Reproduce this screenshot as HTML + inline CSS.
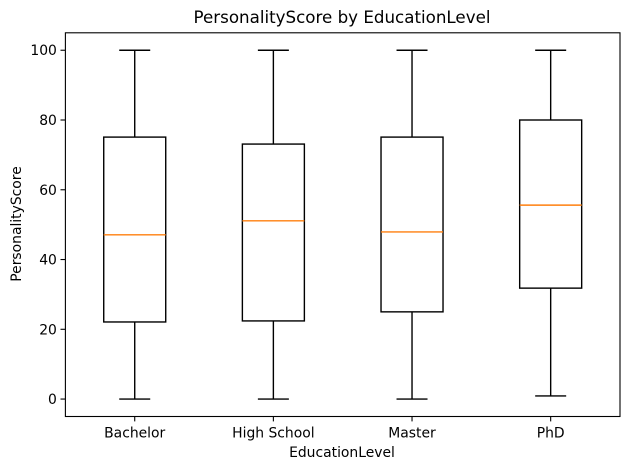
<!DOCTYPE html>
<html><head><meta charset="utf-8"><style>
body{margin:0;background:#fff;}
svg text{font-family:"DejaVu Sans","Liberation Sans",sans-serif;}
</style></head><body>
<svg id="chart" width="630" height="470" viewBox="0 0 630 470">
<rect width="630" height="470" fill="#fff"/>
<text x="342" y="23" font-size="16.7" text-anchor="middle">PersonalityScore by EducationLevel</text>
<g id="plot"></g>
<text x="342" y="457" font-size="13.9" text-anchor="middle">EducationLevel</text>
<text transform="translate(21,224) rotate(-90)" font-size="13.9" text-anchor="middle">PersonalityScore</text>
</svg>
<script>
const categories=["Bachelor","High School","Master","PhD"];
const whiskerLow=[0,0,0,0.9];
const q1=[22.1,22.4,25.0,31.8];
const medians=[47.1,51.1,47.9,55.6];
const q3=[75.1,73.1,75.1,80.0];
const whiskerHigh=[100,100,100,100];
const yTicks=[0,20,40,60,80,100];

const L=65.4,R=620,T=32.8,B=416.5;
const ymin=-5,ymax=105;
const xs=i=>L+(i+1-0.5)/4*(R-L);
const ys=v=>B-(v-ymin)/(ymax-ymin)*(B-T);
const NS="http://www.w3.org/2000/svg";
const g=document.getElementById('plot');
function mk(tag,attrs){const e=document.createElementNS(NS,tag);for(const k in attrs)e.setAttribute(k,attrs[k]);g.appendChild(e);return e;}
const hw=31, cap=15.5, sw=1.4;
categories.forEach((c,i)=>{
  const x=xs(i);
  let e=mk('line',{x1:x,x2:x,y1:ys(whiskerLow[i]),y2:ys(q1[i]),stroke:'#000','stroke-width':sw});
  
  
  e=mk('line',{x1:x,x2:x,y1:ys(q3[i]),y2:ys(whiskerHigh[i]),stroke:'#000','stroke-width':sw});
  
  
  e=mk('line',{x1:x-cap,x2:x+cap,y1:ys(whiskerLow[i]),y2:ys(whiskerLow[i]),stroke:'#000','stroke-width':sw});
  
  
  e=mk('line',{x1:x-cap,x2:x+cap,y1:ys(whiskerHigh[i]),y2:ys(whiskerHigh[i]),stroke:'#000','stroke-width':sw});
  
  
  e=mk('rect',{x:x-hw,y:ys(q3[i]),width:2*hw,height:ys(q1[i])-ys(q3[i]),fill:'none',stroke:'#000','stroke-width':sw});
  
  
  e=mk('line',{x1:x-hw,x2:x+hw,y1:ys(medians[i]),y2:ys(medians[i]),stroke:'#ff7f0e','stroke-width':sw});
  
  
  e=mk('line',{x1:x,x2:x,y1:B,y2:B+4.9,stroke:'#000','stroke-width':1.1});
  
  
  e=mk('text',{x:x,y:B+21,'font-size':13.9,'text-anchor':'middle'});
  e.textContent=c;
  
  
});
yTicks.forEach(v=>{
  const y=ys(v);
  let e=mk('line',{x1:L-4.9,x2:L,y1:y,y2:y,stroke:'#000','stroke-width':1.1});
  
  
  e=mk('text',{x:L-8.5,y:y+5,'font-size':13.9,'text-anchor':'end'});
  e.textContent=v;
  
  
});
const fr=mk('rect',{x:L,y:T,width:R-L,height:B-T,fill:'none',stroke:'#000','stroke-width':1.1});


</script>
</body></html>
